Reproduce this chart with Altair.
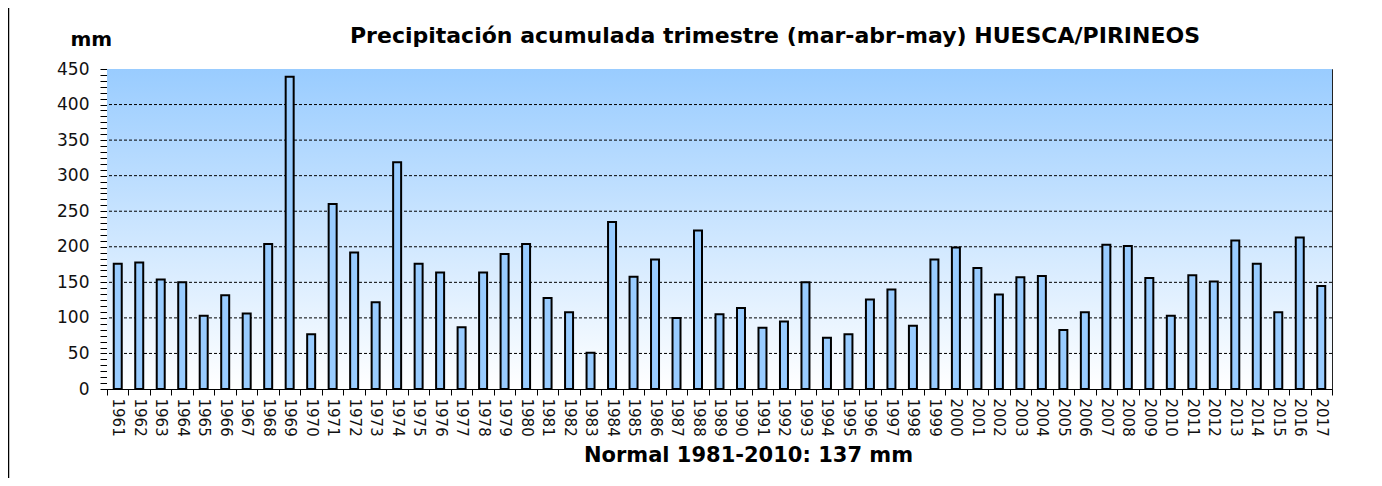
import altair as alt
import pandas as pd

YEARS = ["1961", "1962", "1963", "1964", "1965", "1966", "1967", "1968", "1969", "1970",
         "1971", "1972", "1973", "1974", "1975", "1976", "1977", "1978", "1979", "1980",
         "1981", "1982", "1983", "1984", "1985", "1986", "1987", "1988", "1989", "1990",
         "1991", "1992", "1993", "1994", "1995", "1996", "1997", "1998", "1999", "2000",
         "2001", "2002", "2003", "2004", "2005", "2006", "2007", "2008", "2009", "2010",
         "2011", "2012", "2013", "2014", "2015", "2016", "2017"]
PRECIP = [176, 178, 154, 150, 103, 132, 106, 204, 439, 77,
          260, 192, 122, 319, 176, 164, 87, 164, 190, 204,
          128, 108, 51, 235, 158, 182, 100, 223, 105, 114,
          86, 95, 150, 72, 77, 126, 140, 89, 182, 199,
          170, 133, 157, 159, 83, 108, 203, 201, 156, 103,
          160, 151, 209, 176, 108, 213, 145]
GRID_VALUES = [50, 100, 150, 200, 250, 300, 350, 400]
Y_TICK_VALUES = [round(k * 50 / 6, 6) for k in range(55)]

TITLE = "Precipitación acumulada trimestre (mar-abr-may) HUESCA/PIRINEOS"
X_TITLE = "Normal 1981-2010: 137 mm"
Y_TITLE = "mm"

W, H = 1225, 320
FONT = "DejaVu Sans"

df = pd.DataFrame({"year": YEARS, "mm": PRECIP})
grid_df = pd.DataFrame({"mm": GRID_VALUES})
title_df = pd.DataFrame({"t": [TITLE]})

x_enc = alt.X(
    "year:O",
    scale=alt.Scale(paddingInner=0, paddingOuter=0),
    axis=alt.Axis(
        title=X_TITLE,
        labelAngle=90, labelAlign="left", labelBaseline="middle",
        labelPadding=3, labelFont=FONT, labelFontSize=15, labelColor="#111",
        tickBand="extent", tickSize=6, tickColor="black", domainColor="black",
        titleFont=FONT, titleFontSize=21, titleFontWeight="bold", titleColor="black",
        titleX=641, titleY=72, titleAlign="center", titleBaseline="alphabetic",
    ),
)

label_expr = "(datum.value % 50 == 0) ? datum.label : ''"

y_axis = alt.Axis(
    values=Y_TICK_VALUES, labelExpr=label_expr, grid=False,
    labelOverlap=False, labelFlush=False,
    labelFont=FONT, labelFontSize=17, labelColor="#111", labelPadding=11,
    tickSize=7, tickColor="black", domainColor="black",
    title=Y_TITLE, titleAngle=0, titleX=-37, titleY=-24,
    titleAlign="left", titleBaseline="alphabetic",
    titleFont=FONT, titleFontSize=20, titleFontWeight="bold", titleColor="black",
)
y_scale = alt.Scale(domain=[0, 450], nice=False)

gradient = alt.LinearGradient(
    gradient="linear",
    stops=[alt.GradientStop(color="#99CCFF", offset=0), alt.GradientStop(color="#FFFFFF", offset=1)],
    x1=0, x2=0, y1=0, y2=1,
)

background = alt.Chart(title_df).mark_rect(fill=gradient).encode(
    x=alt.value(0), x2=alt.value(W), y=alt.value(0), y2=alt.value(H)
)

grid = alt.Chart(grid_df).mark_rule(color="black", strokeWidth=1, strokeDash=[3, 2]).encode(
    y=alt.Y("mm:Q", scale=y_scale, axis=y_axis)
)

bars = alt.Chart(df).mark_bar(
    width=alt.RelativeBandSize(0.372), fill="#99CCFF", stroke="black", strokeWidth=2
).encode(x=x_enc, y=alt.Y("mm:Q", scale=y_scale, axis=y_axis))

title = alt.Chart(title_df).mark_text(
    font=FONT, fontSize=22, fontWeight="bold", align="center", baseline="alphabetic", color="black"
).encode(text="t:N", x=alt.value(668), y=alt.value(-25.7))

frame = alt.Chart(title_df).mark_rule(color="black", strokeWidth=1.5).encode(
    x=alt.value(-98.5), y=alt.value(-61), y2=alt.value(H + 89)
)

chart = alt.layer(background, grid, bars, title, frame).properties(
    width=W, height=H,
    autosize=alt.AutoSizeParams(type="none"),
    padding={"left": 99, "top": 61, "right": 42, "bottom": 89},
    background="white",
).configure_view(stroke="#222", strokeWidth=1)

chart.save("out.html", embed_options={"renderer": "svg", "actions": False})
